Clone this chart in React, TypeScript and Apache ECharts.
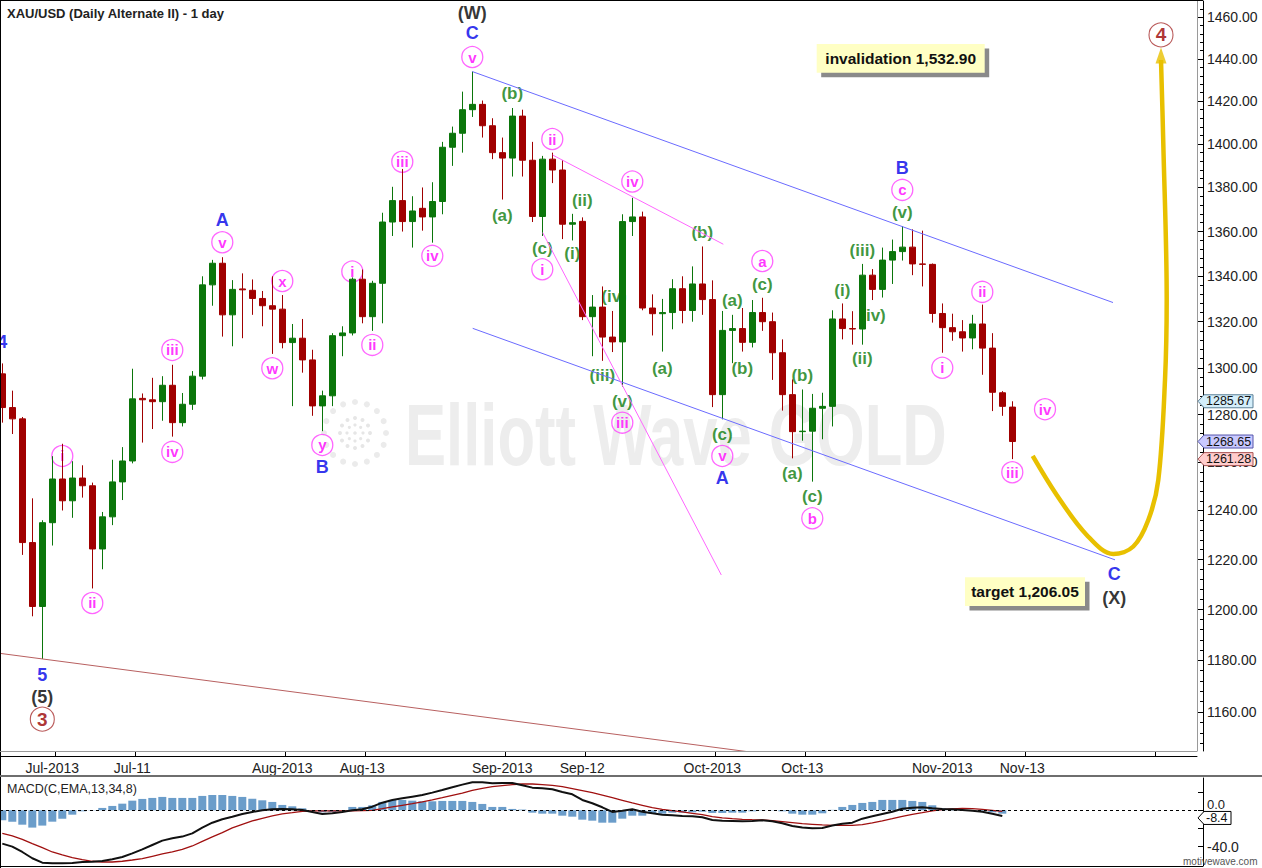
import React, { useEffect, useRef } from 'react';
import * as echarts from 'echarts';

const FONT = '"Liberation Sans", Arial, Helvetica, sans-serif';
const TITLE = 'XAU/USD (Daily Alternate II) - 1 day';

// Daily candles, one per trading day starting 2013-06-24: [open, close, low, high]
const candles: number[][] = [
  [1297.4, 1283.0, 1276.6, 1301.9], [1283.0, 1278.2, 1271.8, 1290.2], [1278.2, 1226.9, 1221.9, 1279.0],
  [1226.9, 1201.2, 1197.3, 1245.0], [1201.2, 1235.0, 1180.5, 1236.0], [1235.0, 1253.0, 1225.7, 1262.5],
  [1253.0, 1244.0, 1240.0, 1267.7], [1244.0, 1253.4, 1237.0, 1260.4], [1253.4, 1250.2, 1245.3, 1258.7],
  [1250.2, 1224.3, 1208.4, 1251.5], [1224.3, 1237.4, 1216.1, 1239.4], [1237.4, 1251.8, 1234.0, 1261.0],
  [1251.8, 1260.5, 1244.3, 1266.3], [1260.5, 1286.7, 1259.5, 1299.6], [1286.9, 1286.3, 1268.2, 1289.0],
  [1286.3, 1285.5, 1273.9, 1295.7], [1285.5, 1292.5, 1277.4, 1296.4], [1292.5, 1276.6, 1270.7, 1301.3],
  [1276.6, 1284.4, 1275.0, 1289.2], [1284.4, 1296.4, 1282.0, 1298.6], [1296.4, 1336.2, 1295.0, 1340.0],
  [1336.2, 1345.8, 1327.0, 1347.3], [1345.8, 1323.0, 1313.5, 1348.5], [1323.0, 1334.2, 1309.3, 1338.3],
  [1334.4, 1334.0, 1312.8, 1341.3], [1333.8, 1330.2, 1323.0, 1338.6], [1330.2, 1327.0, 1318.0, 1333.5],
  [1327.0, 1325.5, 1306.0, 1340.0], [1325.5, 1310.9, 1308.4, 1331.7], [1310.9, 1312.8, 1283.6, 1319.0],
  [1312.8, 1303.4, 1297.9, 1321.2], [1303.4, 1283.7, 1279.5, 1307.8], [1283.7, 1288.0, 1273.0, 1290.2],
  [1288.0, 1313.9, 1283.6, 1315.0], [1313.9, 1315.1, 1305.0, 1318.0], [1315.1, 1338.7, 1314.0, 1339.5],
  [1338.7, 1322.2, 1319.3, 1343.0], [1322.2, 1336.9, 1316.0, 1338.0], [1336.9, 1364.3, 1319.3, 1368.5],
  [1364.3, 1374.0, 1358.0, 1380.3], [1374.0, 1364.5, 1360.0, 1388.5], [1364.5, 1369.3, 1352.8, 1376.0],
  [1370.5, 1366.6, 1360.4, 1380.0], [1366.6, 1373.6, 1355.0, 1382.4], [1373.6, 1398.5, 1367.8, 1401.0],
  [1398.5, 1405.0, 1389.9, 1408.1], [1405.0, 1416.0, 1396.0, 1424.5], [1416.0, 1418.5, 1412.6, 1434.0],
  [1418.5, 1408.5, 1403.0, 1420.3], [1408.5, 1396.0, 1393.0, 1412.0], [1396.0, 1393.5, 1374.5, 1403.0],
  [1393.5, 1413.0, 1385.0, 1416.8], [1413.0, 1392.5, 1385.0, 1416.0], [1392.5, 1366.8, 1364.3, 1401.0],
  [1366.8, 1393.0, 1358.0, 1394.5], [1393.0, 1388.0, 1382.0, 1396.0], [1388.0, 1363.3, 1356.6, 1392.6],
  [1363.3, 1364.0, 1356.0, 1368.0], [1364.6, 1322.2, 1320.7, 1366.4], [1322.2, 1326.4, 1305.0, 1331.7],
  [1326.4, 1313.3, 1303.0, 1335.5], [1313.3, 1311.2, 1306.8, 1324.7], [1311.2, 1364.5, 1291.9, 1367.8],
  [1364.5, 1366.6, 1358.0, 1375.3], [1366.6, 1326.0, 1325.0, 1369.0], [1326.0, 1323.5, 1314.0, 1332.0],
  [1323.5, 1324.0, 1307.0, 1330.0], [1324.0, 1334.5, 1316.7, 1338.7], [1334.5, 1324.9, 1319.3, 1340.0],
  [1324.9, 1336.6, 1320.0, 1344.4], [1336.6, 1329.7, 1323.0, 1353.3], [1329.7, 1288.5, 1283.2, 1338.2],
  [1288.5, 1316.2, 1278.0, 1324.7], [1316.2, 1317.0, 1302.0, 1323.0], [1317.0, 1311.0, 1307.0, 1326.0],
  [1311.0, 1324.0, 1308.8, 1329.5], [1324.0, 1320.0, 1316.0, 1330.5], [1320.0, 1306.5, 1294.8, 1324.0],
  [1306.5, 1288.5, 1281.7, 1312.3], [1288.5, 1272.8, 1261.6, 1295.0], [1272.8, 1273.0, 1269.0, 1290.7],
  [1273.0, 1282.7, 1251.9, 1288.8], [1282.7, 1283.5, 1269.6, 1289.3], [1283.5, 1321.2, 1275.0, 1325.0],
  [1321.2, 1317.0, 1312.3, 1328.0], [1317.0, 1316.8, 1310.0, 1324.6], [1316.8, 1340.5, 1310.0, 1345.5],
  [1340.5, 1334.2, 1329.5, 1343.2], [1334.2, 1347.2, 1330.6, 1352.8], [1347.2, 1351.0, 1336.6, 1356.4],
  [1351.0, 1353.0, 1347.0, 1362.5], [1353.0, 1345.5, 1340.5, 1361.0], [1345.5, 1345.3, 1335.5, 1360.4],
  [1345.3, 1323.6, 1319.6, 1345.7], [1323.6, 1317.4, 1306.5, 1328.0], [1317.4, 1315.6, 1311.7, 1323.5],
  [1315.6, 1312.9, 1307.0, 1320.7], [1312.9, 1319.0, 1308.0, 1323.0], [1319.0, 1308.5, 1297.0, 1327.5],
  [1308.5, 1289.5, 1281.5, 1315.0], [1289.3, 1283.5, 1279.5, 1290.0], [1283.2, 1268.65, 1261.28, 1285.67],
];

// x-axis tick labels (trading-day index) and price-axis ticks
const tickLabels = ['Jul-2013', 'Jul-11', 'Aug-2013', 'Aug-13', 'Sep-2013', 'Sep-12', 'Oct-2013', 'Oct-13', 'Nov-2013', 'Nov-13'];
const tickIndex = [5, 13, 28, 36, 50, 58, 71, 80, 94, 102];
const extraTickIndex = [115];
const priceTicks = [1160, 1180, 1200, 1220, 1240, 1260, 1280, 1300, 1320, 1340, 1360, 1380, 1400, 1420, 1440, 1460];
const macdTicks = [-40, -20, 0, 20];
const macdTickLabels = [-40, 0];

// MACD(13,34,8) panel values from index 0
const macdHist = [
  -11.0, -12.5, -15.8, -19.0, -16.8, -12.5, -9.2, -4.8, -1.1, -0.3,
  2.6, 4.8, 7.3, 10.6, 12.5, 13.6, 14.7, 13.6, 13.6, 13.6,
  15.8, 16.8, 16.8, 15.8, 14.7, 12.8, 11.0, 9.2, 5.9, 4.4,
  2.2, -0.5, -2.2, -1.8, -0.4, 3.7, 3.7, 5.5, 9.2, 11.4,
  11.4, 10.6, 9.9, 9.9, 10.3, 10.3, 10.3, 9.2, 7.0, 3.7,
  3.7, 1.5, 0.8, -2.6, -3.7, -3.7, -5.9, -7.0, -10.3, -11.4,
  -13.6, -13.6, -9.2, -5.9, -5.9, -3.7, -3.7, -2.6, -2.6, -2.2,
  -1.5, -2.9, -2.9, -2.6, -2.6, -1.1, -0.3, 0.3, -1.1, -3.7,
  -4.8, -4.8, -3.3, 0.5, 3.7, 5.9, 8.1, 9.2, 11.4, 11.4,
  11.4, 10.3, 9.2, 5.5, 2.2, 1.1, -0.4, -0.2, -1.1, -2.2,
  -3.7,
];
const macdLine = [
  -36.6, -39.9, -45.8, -52.7, -57.5, -58.2, -58.2, -57.9, -56.8, -56.4,
  -55.7, -53.8, -51.3, -47.3, -42.9, -38.1, -33.3, -30.8, -28.9, -25.3,
  -19.0, -13.6, -9.9, -7.0, -4.0, -1.8, 0, 1.1, 1.5, 1.1,
  0.4, -1.8, -4.0, -3.3, -1.8, 0, 1.1, 4.0, 8.4, 11.4,
  13.2, 15.0, 16.8, 19.4, 22.3, 25.3, 28.2, 30.8, 30.8, 29.7,
  30.0, 30.0, 27.5, 24.9, 24.2, 23.1, 20.1, 17.6, 11.4, 7.7,
  3.3, -1.8, -0.4, 1.1, -1.5, -3.3, -4.8, -5.5, -6.2, -6.6,
  -7.7, -10.6, -11.4, -11.7, -12.1, -11.7, -11.0, -12.1, -14.3, -17.2,
  -19.0, -19.8, -19.4, -16.8, -14.7, -13.6, -9.2, -6.6, -4.0, -1.5,
  1.8, 2.9, 3.3, 2.2, 1.5, 1.1, 0.4, -0.4, -1.5, -3.7,
  -6.2,
];
const signalLine = [
  -25.3, -28.2, -31.9, -36.6, -41.0, -45.8, -49.1, -52.0, -54.2, -56.0,
  -56.8, -56.8, -56.0, -54.6, -53.1, -50.5, -48.0, -45.8, -42.9, -39.2,
  -34.1, -29.3, -24.5, -19.4, -15.4, -11.7, -8.8, -6.2, -4.0, -2.6,
  -1.1, -0.7, -0.7, -0.7, -0.7, -0.7, -0.4, 0, 1.8, 3.7,
  5.5, 7.3, 9.2, 11.4, 13.9, 16.5, 19.0, 22.0, 24.2, 26.0,
  27.1, 28.2, 28.9, 28.9, 28.2, 27.5, 26.0, 23.8, 21.6, 19.4,
  16.8, 13.9, 11.0, 8.1, 5.5, 2.9, 1.1, -0.4, -1.8, -3.3,
  -4.8, -7.0, -8.4, -9.2, -9.9, -10.3, -10.6, -11.4, -12.5, -13.6,
  -14.7, -15.4, -16.1, -16.5, -16.5, -16.5, -15.8, -13.9, -11.7, -9.2,
  -6.6, -4.4, -2.6, -0.7, 0.7, 1.5, 2.2, 1.8, 1.1, 0,
  -1.1,
];
const macdLast = -8.4;

// wave labels anchored at [day index, price, text]
const pinkLabels: [number, number, string][] = [
  [6, 1262.6, 'i'], [9, 1202.6, 'ii'], [17, 1307.7, 'iii'], [17, 1264.3, 'iv'], [22, 1355.2, 'v'],
  [28, 1337.9, 'x'], [27, 1299.8, 'w'], [32, 1267.2, 'y'],
  [35, 1342.1, 'i'], [37, 1309.9, 'ii'], [40, 1391.8, 'iii'], [43, 1349.1, 'iv'], [47, 1440.9, 'v'],
  [54, 1343.1, 'i'], [55, 1402.3, 'ii'], [62, 1276.6, 'iii'], [63, 1382.7, 'iv'], [72, 1262.6, 'v'],
  [76, 1346.8, 'a'], [81, 1236.8, 'b'], [90, 1378.9, 'c'],
  [94, 1300.0, 'i'], [98, 1333.1, 'ii'], [101, 1255.8, 'iii'], [104.27, 1282.3, 'iv'],
];
const greenLabels: [number, number, string][] = [
  [51, 1423.7, '(b)'], [50, 1367.2, '(a)'], [54, 1352.5, '(c)'], [58, 1374.0, '(ii)'], [57, 1350.3, '(i)'],
  [61.17, 1331.0, '(iv)'], [60, 1296.6, '(iii)'], [62, 1285.5, '(v)'],
  [70, 1359.7, '(b)'], [66, 1299.8, '(a)'], [72, 1271.8, '(c)'],
  [73, 1329.5, '(a)'], [74, 1299.8, '(b)'], [76, 1336.5, '(c)'],
  [79, 1255.1, '(a)'], [80, 1296.9, '(b)'], [81, 1245.8, '(c)'],
  [84, 1333.9, '(i)'], [86, 1304.1, '(ii)'], [86, 1351.7, '(iii)'], [87.07, 1322.9, '(iv)'], [90, 1368.6, '(v)'],
];
const blueLabels: [number, number, string][] = [
  [0, 1311.2, '4'], [22, 1365.2, 'A'], [32, 1258.1, 'B'], [47, 1452.3, 'C'],
  [72, 1253.3, 'A'], [90, 1388.8, 'B'], [111.2, 1214.1, 'C'], [4, 1174.3, '5'],
];
const blackLabels: [number, number, string][] = [
  [47, 1462.2, '(W)'], [4, 1165.9, '(5)'], [111.2, 1204.5, '(X)'],
];
const degreeLabels: [number, number, string][] = [
  [4, 1157.2, '3'], [115.87, 1451.5, '4'],
];

// drawn lines [day index, price]
const channelTop = [[47, 1434.0], [111.07, 1328.4]];
const channelBottom = [[47.04, 1317.1], [111.27, 1219.9]];
const pinkUpper = [[55.04, 1394.9], [72.1, 1354.3]];
const pinkSteep = [[54.04, 1359.5], [71.9, 1213.8]];
const redTrend = [[-0.23, 1182.7], [84, 1140.1]];
const projection = [
  [103.04, 1262.6], [105.44, 1246.4], [108.44, 1230.0], [111.1, 1222.3], [113.1, 1225.3],
  [114.6, 1236.1], [115.6, 1252.6], [116.27, 1294.8], [116.44, 1329.8], [116.1, 1400.3], [115.87, 1439.5],
];
const arrowTip = [115.87, 1441.6];

const priceTags = [
  { value: 1285.67, fill: '#d4eefa', stroke: '#5b7f95' },
  { value: 1268.65, fill: '#c9c9ff', stroke: '#5555aa' },
  { value: 1261.28, fill: '#ffcccc', stroke: '#aa5555' },
];

const UP = '#0b760b';
const DOWN = '#a00000';

function labelSeries(list: [number, number, string][], o: any) {
  return {
    type: 'scatter',
    xAxisIndex: 0,
    yAxisIndex: 0,
    silent: true,
    z: 2,
    symbol: 'circle',
    symbolSize: o.size ?? 1,
    itemStyle: o.itemStyle ?? { color: 'rgba(0,0,0,0)' },
    label: {
      show: true,
      position: 'inside',
      formatter: '{b}',
      color: o.color,
      fontSize: o.fontSize,
      fontWeight: 'bold',
      fontFamily: FONT,
    },
    data: list.map(([x, y, t]) => ({ value: [x, y], name: t })),
  };
}

function lineSeries(pts: number[][], color: string, width: number, extra: any = {}) {
  return {
    type: 'line',
    xAxisIndex: 0,
    yAxisIndex: 0,
    silent: true,
    symbol: 'none',
    z: 4,
    data: pts,
    lineStyle: { color, width },
    ...extra,
  };
}

export default function App() {
  const ref = useRef<HTMLDivElement>(null);

  useEffect(() => {
    const el = ref.current!;
    const chart = echarts.init(el, null, { renderer: 'svg' });
    const minorTicks: number[] = [];
    for (let v = 1148; v <= 1464; v += 4) minorTicks.push(v);

    const option: any = {
      animation: false,
      backgroundColor: '#ffffff',
      grid: [
        { left: 0, right: 65, top: 1, bottom: 117, containLabel: false, outerBoundsMode: 'none', show: false },
        { left: 0, right: 59, top: 778, bottom: 2, containLabel: false, outerBoundsMode: 'none', show: false },
      ],
      xAxis: [
        {
          type: 'value', gridIndex: 0, min: -0.23, max: 119.47, position: 'bottom', offset: 5,
          axisLine: { show: true, onZero: false, lineStyle: { color: '#000', width: 1 } },
          axisTick: {
            show: true, inside: true, length: 5, lineStyle: { color: '#000' },
            customValues: tickIndex.concat(extraTickIndex).map((t) => t + 0.3),
          },
          axisLabel: {
            show: true, customValues: tickIndex, margin: 5,
            formatter: (v: number) => {
              const j = tickIndex.indexOf(Math.round(v));
              return j >= 0 ? tickLabels[j] : '';
            },
            color: '#222', fontSize: 14, fontFamily: FONT,
          },
          splitLine: { show: false },
        },
        { type: 'value', gridIndex: 1, min: -0.23, max: 120.07, show: false, splitLine: { show: false } },
      ],
      yAxis: [
        {
          type: 'log', logBase: 10, gridIndex: 0, min: 1145.07, max: 1467.9, position: 'right', offset: 6,
          axisLine: { show: true, onZero: false, lineStyle: { color: '#000', width: 1 } },
          axisTick: { show: true, inside: true, length: 6, customValues: priceTicks, lineStyle: { color: '#000' } },
          axisLabel: {
            show: true, customValues: priceTicks, margin: 4,
            formatter: (v: number) => Number(v).toFixed(2),
            color: '#222', fontSize: 14, fontFamily: FONT,
          },
          splitLine: { show: false }, minorTick: { show: false }, minorSplitLine: { show: false },
        },
        {
          type: 'log', logBase: 10, gridIndex: 0, min: 1145.07, max: 1467.9, position: 'right', offset: 6,
          axisLine: { show: false, onZero: false },
          axisTick: { show: true, inside: true, length: 3, customValues: minorTicks, lineStyle: { color: '#000' } },
          axisLabel: { show: false },
          splitLine: { show: false },
        },
        {
          type: 'value', gridIndex: 1, min: -61.2, max: 35.5, position: 'right',
          axisLine: { show: true, onZero: false, lineStyle: { color: '#000', width: 1 } },
          axisTick: { show: true, inside: true, length: 5, customValues: macdTicks, lineStyle: { color: '#000' } },
          axisLabel: {
            show: true, customValues: macdTickLabels, margin: 4,
            formatter: (v: number) => (Number(v) === 0 ? '{z|0.0}' : '{n|' + Number(v).toFixed(1) + '}'),
            rich: {
              z: { color: '#222', fontSize: 13, fontFamily: FONT, padding: [0, 0, 12, 0] },
              n: { color: '#222', fontSize: 14, fontFamily: FONT },
            },
            color: '#222', fontSize: 14, fontFamily: FONT,
          },
          splitLine: { show: false },
        },
      ],
      series: [
        labelSeries(pinkLabels, {
          size: 21, color: '#ff00ff', fontSize: 15,
          itemStyle: { color: 'rgba(255,255,255,0)', borderColor: '#ff40ff', borderWidth: 1.3 },
        }),
        labelSeries(greenLabels, { color: '#0c7c0c', fontSize: 17 }),
        labelSeries(blueLabels, { color: '#0000e8', fontSize: 18 }),
        labelSeries(blackLabels, { color: '#000000', fontSize: 18 }),
        labelSeries(degreeLabels, {
          size: 24, color: '#990000', fontSize: 19,
          itemStyle: { color: 'rgba(255,255,255,0)', borderColor: '#a83030', borderWidth: 1.1 },
        }),
        {
          type: 'candlestick', xAxisIndex: 0, yAxisIndex: 0, z: 3, silent: true, barWidth: 7,
          data: candles.map((c, i) => [i, c[0], c[1], c[2], c[3]]),
          itemStyle: {
            color: UP, color0: DOWN, borderColor: UP, borderColor0: DOWN, borderColorDoji: UP, borderWidth: 1,
          },
        },
        lineSeries(channelTop, '#6b6bff', 1),
        lineSeries(channelBottom, '#6b6bff', 1),
        lineSeries(pinkUpper, '#ff66ff', 1),
        lineSeries(pinkSteep, '#ff66ff', 1),
        lineSeries(redTrend, '#b86060', 1),
        lineSeries(projection, '#e8c000', 4.5, { smooth: 0.35, z: 5 }),
        {
          type: 'scatter', xAxisIndex: 0, yAxisIndex: 0, silent: true, z: 5,
          symbol: 'triangle', symbolSize: [11, 16], itemStyle: { color: '#e8c000' },
          data: [arrowTip],
        },
        {
          type: 'bar', xAxisIndex: 1, yAxisIndex: 2, silent: true, barWidth: 8, z: 2,
          itemStyle: { color: '#6b9dca' },
          data: macdHist.map((v, i) => [i, v]),
          markLine: {
            silent: true, symbol: 'none', label: { show: false },
            lineStyle: { color: '#000', type: [3, 3], width: 1 },
            data: [{ yAxis: 0 }],
          },
        },
        {
          type: 'line', xAxisIndex: 1, yAxisIndex: 2, silent: true, symbol: 'none', z: 4,
          data: signalLine.map((v, i) => [i, v]), lineStyle: { color: '#a01010', width: 1.3 },
        },
        {
          type: 'line', xAxisIndex: 1, yAxisIndex: 2, silent: true, symbol: 'none', z: 5,
          data: macdLine.map((v, i) => [i, v]), lineStyle: { color: '#111', width: 2 },
        },
      ],
    };
    chart.setOption(option);

    const py = (v: number) => chart.convertToPixel({ yAxisIndex: 0 } as any, v) as unknown as number;
    const pm = (v: number) => chart.convertToPixel({ yAxisIndex: 2 } as any, v) as unknown as number;

    const tag = (y: number, text: string, fill: string, stroke: string, right: number) => ({
      type: 'group',
      z: 100,
      children: [
        {
          type: 'polygon', z: 100,
          shape: { points: [[1198, y], [1204, y - 6.5], [right, y - 6.5], [right, y + 6.5], [1204, y + 6.5]] },
          style: { fill, stroke, lineWidth: 1 },
        },
        {
          type: 'text', z: 101, x: 1206, y,
          style: { text, fill: '#111', font: `12.5px ${FONT}`, verticalAlign: 'middle', align: 'left' },
        },
      ],
    });

    const noteBox = (x: number, y: number, w: number, h: number, text: string) => ({
      type: 'group',
      z: 100,
      children: [
        { type: 'rect', z: 100, shape: { x: x + 4.5, y: y + 4.5, width: w, height: h }, style: { fill: '#8a8a8a' } },
        { type: 'rect', z: 101, shape: { x, y, width: w, height: h }, style: { fill: '#ffffc4' } },
        {
          type: 'text', z: 102, x: x + w / 2, y: y + h / 2,
          style: { text, fill: '#111', font: `bold 15.5px ${FONT}`, align: 'center', verticalAlign: 'middle' },
        },
      ],
    });

    const dots: any[] = [];
    const cx = 355, cy = 433;
    for (let a = 0; a < 16; a++) {
      const t = (a / 16) * Math.PI * 2;
      dots.push({ type: 'circle', z: 0, shape: { cx: cx + 31 * Math.cos(t), cy: cy + 31 * Math.sin(t), r: 3 }, style: { fill: '#ebebeb' } });
    }
    for (let a = 0; a < 12; a++) {
      const t = (a / 12) * Math.PI * 2;
      dots.push({ type: 'circle', z: 0, shape: { cx: cx + 15 * Math.cos(t), cy: cy + 15 * Math.sin(t), r: 2 }, style: { fill: '#e6e6e6' } });
    }
    for (let a = 0; a < 8; a++) {
      const t = (a / 8) * Math.PI * 2;
      dots.push({ type: 'circle', z: 0, shape: { cx: cx + 8 * Math.cos(t), cy: cy + 8 * Math.sin(t), r: 1.6 }, style: { fill: '#e6e6e6' } });
    }
    dots.push({ type: 'circle', z: 0, shape: { cx, cy, r: 1.8 }, style: { fill: '#e6e6e6' } });

    const graphic: any[] = [
      ...dots,
      {
        type: 'text', z: 0, x: 405, y: 434, scaleX: 0.7,
        style: { text: 'Elliott Wave GOLD', fill: '#ededed', font: `bold 88px ${FONT}`, align: 'left', verticalAlign: 'middle' },
      },
      { type: 'line', z: 100, shape: { x1: 0, y1: 0.5, x2: 1203, y2: 0.5 }, style: { stroke: '#000', lineWidth: 1 } },
      { type: 'line', z: 100, shape: { x1: 0.5, y1: 0, x2: 0.5, y2: 868 }, style: { stroke: '#000', lineWidth: 1 } },
      { type: 'line', z: 100, shape: { x1: 1197.5, y1: 1, x2: 1197.5, y2: 751 }, style: { stroke: '#9a9a9a', lineWidth: 1 } },
      { type: 'line', z: 100, shape: { x1: 0, y1: 751.5, x2: 1197.5, y2: 751.5 }, style: { stroke: '#9a9a9a', lineWidth: 1 } },
      { type: 'rect', z: 100, shape: { x: 0, y: 775, width: 1262, height: 2 }, style: { fill: '#6e6e6e' } },
      { type: 'line', z: 100, shape: { x1: 0, y1: 866.5, x2: 1203, y2: 866.5 }, style: { stroke: '#000', lineWidth: 1 } },
      {
        type: 'text', z: 100, x: 7, y: 13,
        style: { text: TITLE, fill: '#222', font: `bold 13px ${FONT}`, align: 'left', verticalAlign: 'middle' },
      },
      {
        type: 'text', z: 100, x: 7, y: 789,
        style: { text: 'MACD(C,EMA,13,34,8)', fill: '#222', font: `12.5px ${FONT}`, align: 'left', verticalAlign: 'middle' },
      },
      {
        type: 'text', z: 100, x: 1183, y: 861,
        style: { text: 'motivewave.com', fill: '#555', font: `10px ${FONT}`, align: 'left', verticalAlign: 'middle' },
      },
      noteBox(816.7, 44, 168, 28.7, 'invalidation 1,532.90'),
      noteBox(965, 577.3, 120, 28.7, 'target 1,206.05'),
      ...priceTags.map((t) => tag(py(t.value), t.value.toFixed(2), t.fill, t.stroke, 1253)),
      tag(pm(macdLast), macdLast.toFixed(1), '#ffffff', '#000000', 1231),
    ];
    chart.setOption({ graphic });

    return () => chart.dispose();
  }, []);

  return (
    <div
      ref={ref}
      style={{ position: 'fixed', left: 0, top: 0, width: 1262, height: 868, background: '#fff' }}
    />
  );
}
